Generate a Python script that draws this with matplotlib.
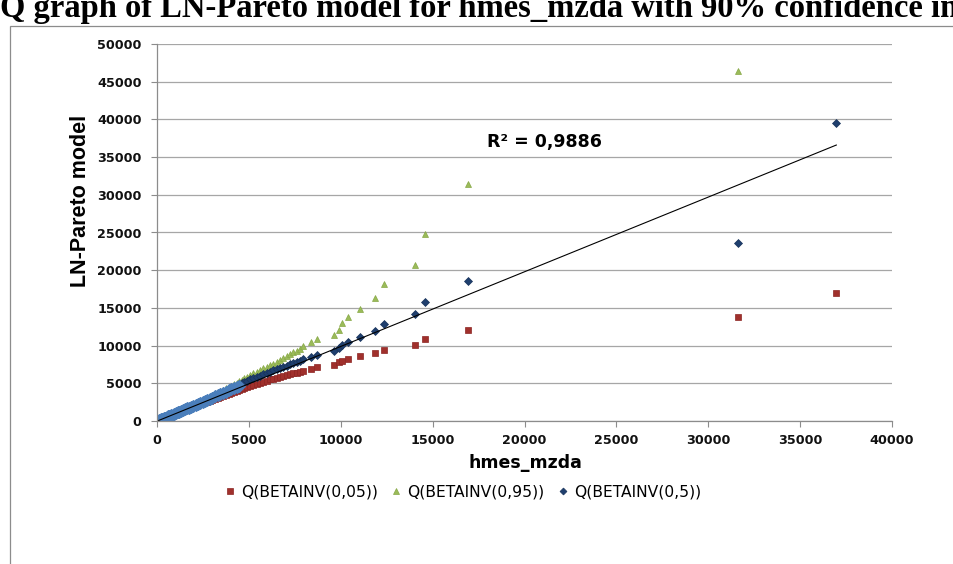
import matplotlib.pyplot as plt
from matplotlib.patches import Rectangle

# hmes_mzda values (shared x for all series)
x_vals = [20, 60, 100, 150, 200, 260, 320, 380, 450, 520,
          600, 680, 760, 850, 940, 1030, 1120, 1220, 1320, 1420,
          1530, 1640, 1750, 1860, 1980, 2100, 2220, 2350, 2480, 2610,
          2740, 2880, 3020, 3160, 3300, 3450, 3600, 3750, 3900, 4050,
          4200, 4340, 4480, 4620, 4760, 4900, 5060, 5240, 5420, 5600,
          5790, 5970, 6150, 6330, 6510, 6690, 6870, 7050, 7240, 7420,
          7600, 7780, 7960, 8380, 8690, 9620, 9890, 10070, 10380, 11070,
          11850, 12340, 14040, 14580, 16910, 31620, 36970]

# Q(BETAINV(0,05))
q05 = [20, 60, 99, 148, 197, 256, 314, 372, 440, 508,
       585, 662, 738, 824, 910, 995, 1080, 1175, 1268, 1362,
       1465, 1568, 1670, 1772, 1883, 1993, 2103, 2222, 2340, 2458,
       2576, 2702, 2828, 2953, 3077, 3210, 3342, 3474, 3605, 3735,
       3864, 3984, 4103, 4222, 4340, 4457, 4630, 4770, 4910, 5060,
       5210, 5370, 5530, 5630, 5740, 5860, 5970, 6080, 6190, 6300,
       6410, 6540, 6670, 6940, 7120, 7400, 7800, 7960, 8180, 8580,
       9020, 9460, 10040, 10920, 12030, 13750, 17020]

# Q(BETAINV(0,95)) - last point is above the axis range
q95 = [20, 60, 100, 151, 202, 263, 324, 386, 458, 531,
       614, 698, 783, 879, 975, 1072, 1170, 1280, 1390, 1501,
       1624, 1748, 1873, 1998, 2137, 2276, 2417, 2571, 2726, 2882,
       3040, 3212, 3385, 3559, 3736, 3926, 4118, 4313, 4508, 4706,
       4906, 5093, 5283, 5474, 5666, 5860, 6100, 6320, 6540, 6760,
       6990, 7200, 7430, 7620, 7850, 8100, 8350, 8600, 8850, 9110,
       9320, 9590, 9950, 10480, 10850, 11400, 12070, 12960, 13750, 14850,
       16360, 18170, 20730, 24800, 31430, 46380]

# Q(BETAINV(0,5))
q50 = [20, 60, 100, 150, 201, 261, 322, 383, 454, 525,
       607, 689, 771, 864, 957, 1050, 1144, 1248, 1353, 1458,
       1574, 1691, 1808, 1926, 2054, 2184, 2314, 2455, 2597, 2739,
       2883, 3038, 3193, 3350, 3507, 3676, 3846, 4017, 4189, 4362,
       4535, 4698, 4861, 5026, 5190, 5356, 5530, 5700, 5880, 6030,
       6190, 6360, 6540, 6700, 6860, 7030, 7200, 7360, 7520, 7690,
       7870, 8000, 8200, 8490, 8700, 9250, 9640, 10080, 10520, 11140,
       11900, 12900, 14190, 15820, 18610, 23650, 39520]

# observed band near the origin (not in legend)
q_obs = [20, 60, 100, 150, 200, 260, 320, 381, 451, 522,
         603, 684, 765, 857, 949, 1041, 1133, 1236, 1338, 1441,
         1554, 1668, 1782, 1896, 2020, 2144, 2269, 2405, 2540, 2677,
         2814, 2962, 3110, 3259, 3408, 3568, 3728, 3889, 4050, 4212,
         4374, 4526, 4679]

trend_x = [20, 36970]
trend_y = [0, 36600]
r2_text = 'R² = 0,9886'

labels = ['Q(BETAINV(0,05))', 'Q(BETAINV(0,95))', 'Q(BETAINV(0,5))']

plt.rcParams['font.family'] = ['DejaVu Sans']

fig = plt.figure(figsize=(9.54, 5.64), dpi=100)
ax = fig.add_axes([157 / 954, 1 - 421 / 564, 735 / 954, 377 / 564])

ax.plot(x_vals, q05, 's', color='#A0302C', ms=4.6, mec='#8C2523', mew=0.5, label=labels[0])
ax.plot(x_vals[:len(q95)], q95, '^', color='#9BBB59', ms=5, mec='#86A845', mew=0.5, label=labels[1])
ax.plot(x_vals, q50, 'D', color='#1F3F6E', ms=4.4, mec='#17325A', mew=0.5, label=labels[2])
ax.plot(x_vals[:len(q_obs)], q_obs, 'D', color='#4A7EBB', ms=6.5, mec='#4A7EBB', mew=0.8)
ax.plot(trend_x, trend_y, color='black', lw=0.8)

ax.text(17960, 37000, r2_text, fontsize=12.5, fontweight='bold', va='center', ha='left')

ax.set_xlim(0, 40000)
ax.set_ylim(0, 50000)
ax.set_xticks(range(0, 40001, 5000))
ax.set_yticks(range(0, 50001, 5000))
ax.grid(axis='y', color='#a6a6a6', lw=0.9)
ax.set_axisbelow(True)
for s in ['top', 'right']:
    ax.spines[s].set_visible(False)
for s in ['left', 'bottom']:
    ax.spines[s].set_color('#8c8c8c')
    ax.spines[s].set_linewidth(0.9)
ax.tick_params(axis='y', colors='#8c8c8c', length=4, pad=7, labelcolor='#111111', labelsize=9.2)
ax.tick_params(axis='x', colors='#8c8c8c', length=4, pad=5, labelcolor='#111111', labelsize=9.2)
for lab in ax.get_xticklabels() + ax.get_yticklabels():
    lab.set_fontweight('bold')

fig.text(80 / 954, 1 - 201 / 564, 'LN-Pareto model', rotation=90, ha='center', va='center',
         family='Liberation Sans', fontsize=15.5, fontweight='bold')
fig.text(525 / 954, 1 - 463 / 564, 'hmes_mzda', ha='center', va='center',
         fontsize=12.5, fontweight='bold')

fig.legend(loc='center', bbox_to_anchor=(463 / 954, 1 - 492 / 564), ncol=3, frameon=False,
           fontsize=11.2, handlelength=0.6, handletextpad=0.4, columnspacing=0.9, markerscale=0.8)

# chart area border and cropped title
fig.add_artist(Rectangle((10 / 954, -0.05), 1.1, 1.05 - 26 / 564, transform=fig.transFigure,
                         fill=False, ec='#8c8c8c', lw=0.9))
fig.text(0.0, 1 - 17 / 564, 'Q graph of LN-Pareto model for hmes_mzda with 90% confidence intervals',
         family='Liberation Serif', fontsize=23.5, fontweight='bold', va='baseline', ha='left')

fig.savefig('out.png', dpi=100)
